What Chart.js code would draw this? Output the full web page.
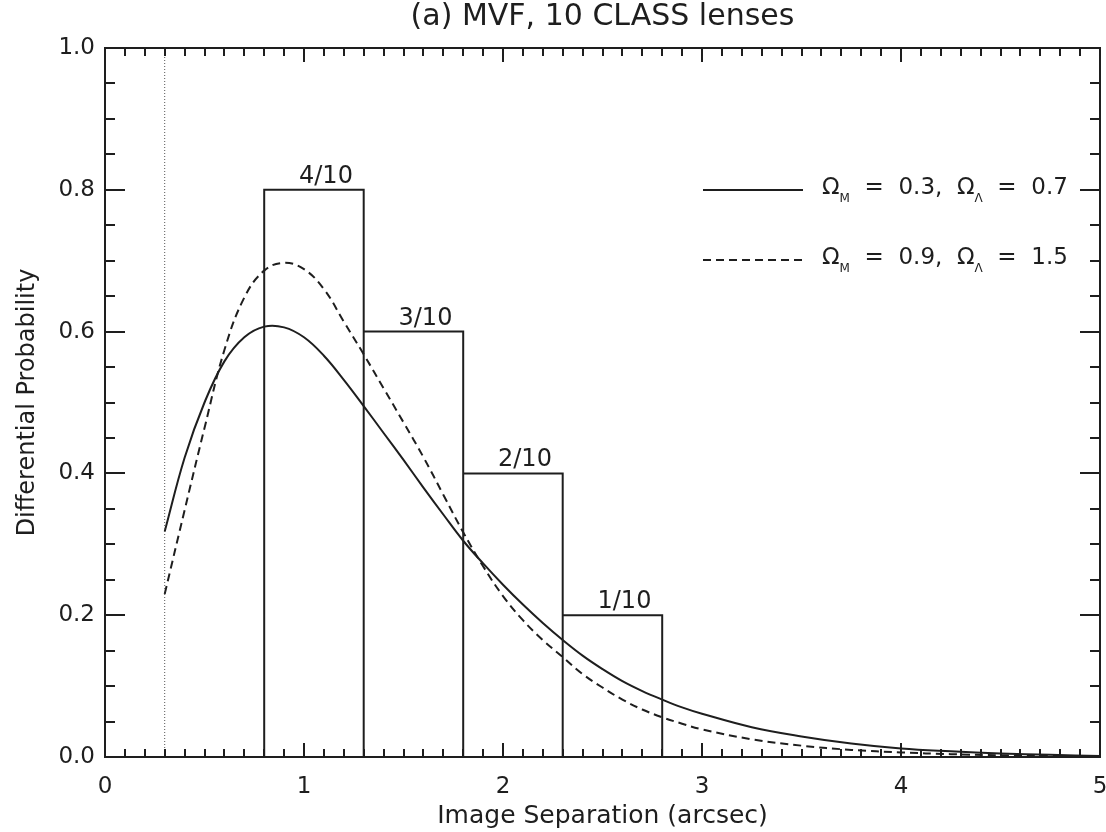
<!DOCTYPE html>
<html>
<head>
<meta charset="utf-8">
<script src="https://cdn.jsdelivr.net/npm/chart.js@4.4.1/dist/chart.umd.min.js"></script>
<style>
  html, body { margin: 0; padding: 0; background: #fff; }
  canvas { display: block; }
</style>
</head>
<body>
<canvas id="mvfChart" width="1106" height="832"></canvas>
<script>
// histogram of the 10 CLASS lenses
const binEdges = [0.8, 1.3, 1.8, 2.3, 2.8];
const lensCounts = [4, 3, 2, 1];
const totalLenses = 10;
const binHeights = [0.8, 0.6, 0.4, 0.2];

// lower limit on separation (dotted line)
const sepCutoff = 0.3;

// model curves
const curveX = [0.3, 0.4, 0.5, 0.6, 0.7, 0.8, 0.9, 1.0, 1.1, 1.2, 1.3, 1.4, 1.5, 1.6, 1.7, 1.8,
                1.9, 2.0, 2.1, 2.2, 2.3, 2.4, 2.5, 2.6, 2.7, 2.8, 2.9, 3.0,
                3.25, 3.5, 3.75, 4.0, 4.25, 4.5, 4.75, 5.0];
const probFlat = [0.318, 0.422, 0.500, 0.558, 0.592, 0.607, 0.606, 0.592, 0.566, 0.532, 0.495, 0.457, 0.419, 0.380, 0.342, 0.305,
                  0.273, 0.243, 0.215, 0.189, 0.165, 0.143, 0.124, 0.107, 0.093, 0.081, 0.070, 0.061,
                  0.042, 0.029, 0.019, 0.012, 0.008, 0.005, 0.003, 0.0015];
const probClosed = [0.230, 0.348, 0.464, 0.574, 0.648, 0.686, 0.697, 0.688, 0.660, 0.614, 0.568, 0.520, 0.472, 0.423, 0.370, 0.317,
                    0.269, 0.227, 0.193, 0.165, 0.141, 0.117, 0.098, 0.081, 0.067, 0.056, 0.047, 0.039,
                    0.025, 0.016, 0.010, 0.0065, 0.004, 0.0025, 0.0015, 0.001];

// cosmologies for the legend
const omegaM = [0.3, 0.9];
const omegaL = [0.7, 1.5];

const chartTitle = '(a) MVF, 10 CLASS lenses';

const FONT = '"DejaVu Sans", sans-serif';
const INK = '#1e1e1e';

function toPoints(xs, ys) {
    return xs.map((v, i) => ({ x: v, y: ys[i] }));
}

// contour du histogramme
const histPoints = [];
binHeights.forEach((h, i) => {
    histPoints.push({ x: binEdges[i], y: 0 }, { x: binEdges[i], y: h },
                    { x: binEdges[i + 1], y: h }, { x: binEdges[i + 1], y: 0 });
});

// cadre, graduations IDL, titre, etiquettes et legende
const idlDecor = {
    id: 'idlDecor',
    afterDatasetsDraw(chart) {
        const { ctx, chartArea: a, scales: { x, y } } = chart;
        ctx.save();
        ctx.strokeStyle = INK;
        ctx.lineWidth = 2;
        ctx.strokeRect(a.left, a.top, a.right - a.left, a.bottom - a.top);

        ctx.beginPath();
        for (let i = 0; i <= 50; i++) {
            const px = Math.round(x.getPixelForValue(i / 10));
            const len = i % 10 === 0 ? 14 : 8;
            ctx.moveTo(px, a.bottom); ctx.lineTo(px, a.bottom - len);
            ctx.moveTo(px, a.top); ctx.lineTo(px, a.top + len);
        }
        for (let j = 0; j <= 20; j++) {
            const py = Math.round(y.getPixelForValue(j / 20));
            const len = j % 4 === 0 ? 20 : 10;
            ctx.moveTo(a.left, py); ctx.lineTo(a.left + len, py);
            ctx.moveTo(a.right, py); ctx.lineTo(a.right - len, py);
        }
        ctx.stroke();

        // titre centre sur la zone du graphique
        ctx.fillStyle = INK;
        ctx.font = '30px ' + FONT;
        ctx.textAlign = 'center';
        ctx.textBaseline = 'middle';
        ctx.fillText(chartTitle, (a.left + a.right) / 2, 17);

        // labels "n/10" au-dessus des barres
        ctx.font = '24px ' + FONT;
        ctx.textBaseline = 'alphabetic';
        lensCounts.forEach((c, i) => {
            const cx = x.getPixelForValue((binEdges[i] + binEdges[i + 1]) / 2) + 12;
            const top = y.getPixelForValue(binHeights[i]);
            ctx.fillText(c + '/' + totalLenses, cx, top - 7);
        });

        // legende
        const rows = [{ dash: [], yLine: 190 }, { dash: [8, 5], yLine: 260 }];
        rows.forEach((r, k) => {
            ctx.setLineDash(r.dash);
            ctx.lineWidth = 2;
            ctx.beginPath();
            ctx.moveTo(703, r.yLine); ctx.lineTo(803, r.yLine);
            ctx.stroke();
            ctx.setLineDash([]);
            let cx = 822;
            const base = r.yLine + 4;
            const part = (txt, size, dy) => {
                ctx.font = size + 'px ' + FONT;
                ctx.textAlign = 'left';
                ctx.fillText(txt, cx, base + dy);
                cx += ctx.measureText(txt).width;
            };
            part('\u03A9', 23, 0);
            part('M', 12, 8);
            part('  =  ' + omegaM[k].toFixed(1) + ',  \u03A9', 23, 0);
            part('\u039B', 12, 8);
            part('  =  ' + omegaL[k].toFixed(1), 23, 0);
        });
        ctx.restore();
    }
};

new Chart(document.getElementById('mvfChart').getContext('2d'), {
    type: 'scatter',
    data: {
        datasets: [
            {
                label: 'cutoff',
                data: [{ x: sepCutoff, y: 0 }, { x: sepCutoff, y: 1 }],
                showLine: true, borderColor: '#555', borderWidth: 1,
                borderDash: [1, 2], pointRadius: 0, tension: 0
            },
            {
                label: 'CLASS lenses',
                data: histPoints,
                showLine: true, borderColor: INK, borderWidth: 2,
                pointRadius: 0, tension: 0
            },
            {
                label: 'OmegaM=0.3, OmegaL=0.7',
                data: toPoints(curveX, probFlat),
                showLine: true, borderColor: INK, borderWidth: 2,
                pointRadius: 0, tension: 0.4
            },
            {
                label: 'OmegaM=0.9, OmegaL=1.5',
                data: toPoints(curveX, probClosed),
                showLine: true, borderColor: INK, borderWidth: 2,
                borderDash: [8, 5], pointRadius: 0, tension: 0.4
            }
        ]
    },
    options: {
        responsive: false,
        animation: false,
        devicePixelRatio: 1,
        layout: { padding: { left: 0, right: 6, top: 48, bottom: 0 } },
        plugins: {
            legend: { display: false },
            tooltip: { enabled: false },
            title: { display: false }
        },
        scales: {
            x: {
                type: 'linear', min: 0, max: 5,
                afterFit: s => { s.height = 75; s.paddingLeft = 0; s.paddingRight = 0; },
                grid: { display: false, drawTicks: false },
                border: { display: false },
                ticks: { stepSize: 1, padding: 16, color: INK, font: { family: FONT, size: 23 } },
                title: {
                    display: true, text: 'Image Separation (arcsec)', color: INK,
                    font: { family: FONT, size: 25 }, padding: { bottom: 1 }
                }
            },
            y: {
                type: 'linear', min: 0, max: 1,
                afterFit: s => { s.width = 105; s.paddingTop = 0; s.paddingBottom = 0; },
                grid: { display: false, drawTicks: false },
                border: { display: false },
                ticks: {
                    stepSize: 0.2, padding: 10, color: INK,
                    font: { family: FONT, size: 23 },
                    callback: v => v.toFixed(1)
                },
                title: {
                    display: true, text: 'Differential Probability', color: INK,
                    font: { family: FONT, size: 24 }, padding: { top: 13 }
                }
            }
        }
    },
    plugins: [idlDecor]
});
</script>
</body>
</html>
